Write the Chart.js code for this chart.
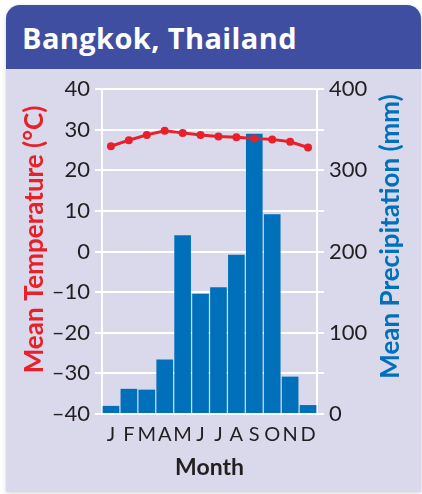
<!DOCTYPE html>
<html>
<head>
<meta charset="utf-8">
<script src="https://cdn.jsdelivr.net/npm/chart.js@4"></script>
<style>
  html, body { margin: 0; padding: 0; background: #ffffff; }
  body { width: 422px; height: 494px; position: relative; overflow: hidden; }
  #card {
    position: absolute; left: 6px; top: 5px; width: 415px; height: 487px;
    border-radius: 14px 14px 0 0; overflow: hidden;
    box-shadow: 0 1px 4px rgba(0,0,0,0.18);
    background: #dad9ec;
  }
  #header {
    position: absolute; left: 0; top: 0; width: 415px; height: 64px;
    background: #3f4ea0;
  }
  #header h1 {
    position: absolute; left: 16px; top: 0; margin: 0;
    font: bold 29px "Open Sans", sans-serif; color: #ffffff; line-height: 1;
    letter-spacing: 0.4px;
    padding-top: 18px;
  }
  #wrap { position: absolute; left: 0; top: 64px; width: 415px; height: 423px; }
</style>
</head>
<body>
<div id="card">
  <div id="header"><h1>Bangkok, Thailand</h1></div>
  <div id="wrap"><canvas id="c" width="415" height="423"></canvas></div>
</div>
<script>
const months = ['J','F','M','A','M','J','J','A','S','O','N','D'];
const temperature = [25.9, 27.4, 28.7, 29.7, 29.2, 28.7, 28.3, 28.1, 27.8, 27.6, 27.0, 25.6];
const precipitation = [10, 31, 30, 67, 220, 148, 156, 196, 345, 246, 46, 11];
const tempTitle = 'Mean Temperature (°C)';
const precTitle = 'Mean Precipitation (mm)';
const xTitle = 'Month';

const RED = '#e8202a';
const BLUE = '#0070ba';
const INK = '#231f20';

const sideTitles = {
  id: 'sideTitles',
  afterDraw(chart) {
    const ctx = chart.ctx;
    const yMid = chart.chartArea.top + (chart.chartArea.bottom - chart.chartArea.top) / 2;
    ctx.save();
    ctx.font = 'bold 26px Lato, sans-serif';
    ctx.textAlign = 'center';
    ctx.textBaseline = 'alphabetic';
    ctx.save();
    ctx.translate(37, yMid - 12);
    ctx.rotate(-Math.PI / 2);
    ctx.fillStyle = RED;
    ctx.fillText(tempTitle, 0, 0);
    ctx.restore();
    ctx.save();
    ctx.translate(393, yMid - 15);
    ctx.rotate(-Math.PI / 2);
    ctx.fillStyle = BLUE;
    ctx.fillText(precTitle, 0, 0);
    ctx.restore();
    ctx.restore();
  }
};

new Chart(document.getElementById('c'), {
  data: {
    labels: months,
    datasets: [
      {
        type: 'line', label: 'Temperature', data: temperature, yAxisID: 'y',
        borderColor: RED, backgroundColor: RED, borderWidth: 3,
        pointRadius: 4, pointBorderWidth: 0, pointBackgroundColor: RED,
        tension: 0, order: 0
      },
      {
        type: 'bar', label: 'Precipitation', data: precipitation, yAxisID: 'y1',
        backgroundColor: BLUE, borderWidth: 0,
        barPercentage: 0.93, categoryPercentage: 1.0, order: 1
      }
    ]
  },
  options: {
    responsive: false, animation: false,
    devicePixelRatio: 1,
    layout: { padding: { top: 20, left: 0, right: 0, bottom: 0 } },
    plugins: { legend: { display: false }, tooltip: { enabled: false } },
    scales: {
      x: {
        type: 'category', offset: true,
        grid: { drawOnChartArea: false, drawTicks: false },
        border: { color: '#ffffff', width: 2 },
        ticks: { color: INK, font: { family: 'Lato', size: 20 }, padding: 9, maxRotation: 0, autoSkip: false },
        title: { display: true, text: xTitle, color: INK, font: { family: 'Lato', size: 23, weight: 'bold' }, padding: { top: 0, bottom: 11 } },
        afterFit(s) { s.height = 78; }
      },
      y: {
        position: 'left', min: -40, max: 40,
        ticks: {
          stepSize: 5, color: INK, font: { family: 'Lato', size: 22 }, padding: 5,
          callback: v => (v % 10 === 0 ? String(v).replace('-', '\u2013') : '')
        },
        grid: {
          color: c => (c.tick && c.tick.value % 10 === 0 ? '#ffffff' : 'rgba(0,0,0,0)'),
          tickColor: '#ffffff', lineWidth: 2, tickLength: 7, tickWidth: 2
        },
        border: { color: '#ffffff', width: 2 },
        afterFit(s) { s.width = 96; }
      },
      y1: {
        position: 'right', min: 0, max: 400,
        ticks: {
          stepSize: 50, color: INK, font: { family: 'Lato', size: 22 }, padding: 5,
          callback: v => (v % 100 === 0 ? String(v) : '')
        },
        grid: { drawOnChartArea: false, tickColor: '#ffffff', lineWidth: 2, tickLength: 7, tickWidth: 2 },
        border: { color: '#ffffff', width: 2 },
        afterFit(s) { s.width = 104; }
      }
    }
  },
  plugins: [sideTitles]
});
</script>
</body>
</html>
